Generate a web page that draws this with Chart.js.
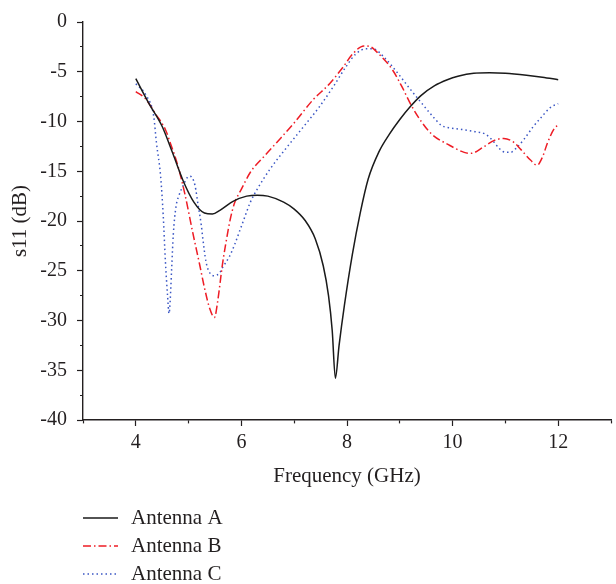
<!DOCTYPE html>
<html>
<head>
<meta charset="utf-8">
<script src="https://cdn.jsdelivr.net/npm/chart.js@4.4.0/dist/chart.umd.min.js"></script>
<style>
  html, body { margin: 0; padding: 0; background: #fff; }
  #wrap { width: 616px; height: 584px; }
</style>
</head>
<body>
<div id="wrap"><canvas id="s11chart"></canvas></div>
<script>
// Series names
const seriesNames = ['Antenna A', 'Antenna B', 'Antenna C'];

// Antenna A (solid black)
const freqA = [4.0, 4.25, 4.5, 4.7, 4.9, 5.1, 5.3, 5.45, 5.6, 5.85, 6.1, 6.3, 6.5, 6.8, 7.0, 7.2, 7.4, 7.55, 7.65, 7.72, 7.78, 7.85, 7.95, 8.1, 8.25, 8.4, 8.6, 8.8, 9.0, 9.2, 9.4, 9.66, 9.9, 10.1, 10.4, 10.7, 11.0, 11.4, 11.7, 12.0];
const s11A = [-5.7, -8.2, -10.5, -13.2, -16.0, -18.1, -19.2, -19.3, -18.9, -18.0, -17.5, -17.4, -17.5, -18.1, -18.8, -19.9, -21.8, -24.5, -27.5, -31.0, -35.8, -32.5, -28.5, -23.4, -19.2, -15.8, -13.1, -11.3, -9.8, -8.5, -7.4, -6.4, -5.8, -5.45, -5.15, -5.1, -5.15, -5.35, -5.55, -5.8];

// Antenna B (red dash-dot)
const freqB = [4.0, 4.18, 4.37, 4.56, 4.65, 4.8, 4.93, 5.08, 5.21, 5.3, 5.4, 5.49, 5.55, 5.64, 5.7, 5.79, 5.87, 6.0, 6.17, 6.43, 6.67, 6.99, 7.36, 7.67, 7.93, 8.11, 8.32, 8.45, 8.6, 8.86, 9.04, 9.23, 9.42, 9.61, 9.91, 10.22, 10.35, 10.6, 10.79, 10.97, 11.16, 11.29, 11.48, 11.6, 11.7, 11.8, 11.94, 12.0];
const s11B = [-7.0, -7.7, -9.2, -10.8, -12.1, -14.5, -17.3, -21.2, -24.4, -26.7, -28.8, -29.7, -28.1, -24.4, -22.4, -19.8, -18.2, -16.8, -15.1, -13.5, -12.1, -10.2, -7.8, -6.2, -4.5, -3.2, -2.4, -2.5, -3.2, -4.8, -6.5, -8.5, -10.1, -11.3, -12.3, -13.1, -13.2, -12.5, -11.9, -11.7, -12.1, -12.8, -13.9, -14.4, -13.6, -12.1, -10.6, -10.4];

// Antenna C (blue dotted)
const freqC = [4.0, 4.21, 4.34, 4.39, 4.47, 4.52, 4.56, 4.6, 4.63, 4.65, 4.68, 4.71, 4.76, 4.82, 4.9, 4.98, 5.03, 5.12, 5.18, 5.24, 5.27, 5.33, 5.4, 5.49, 5.59, 5.64, 5.77, 5.87, 5.96, 6.05, 6.17, 6.3, 6.54, 6.86, 7.18, 7.48, 7.74, 7.98, 8.17, 8.36, 8.49, 8.73, 8.97, 9.16, 9.42, 9.61, 9.79, 9.91, 10.17, 10.41, 10.63, 10.79, 10.88, 11.0, 11.1, 11.2, 11.35, 11.53, 11.66, 11.85, 12.0];
const s11C = [-6.2, -7.5, -9.5, -12.1, -15.5, -19.5, -24.0, -27.4, -29.3, -28.1, -24.7, -21.4, -18.6, -17.4, -16.4, -15.6, -15.5, -16.4, -18.4, -20.4, -21.8, -24.1, -25.2, -25.5, -25.2, -24.7, -23.6, -22.4, -21.1, -19.8, -18.1, -16.8, -14.8, -12.6, -10.5, -8.5, -6.5, -4.5, -3.2, -2.7, -2.7, -3.7, -5.2, -6.5, -8.2, -9.4, -10.4, -10.6, -10.8, -11.0, -11.3, -12.1, -12.7, -13.1, -13.1, -12.7, -11.8, -10.5, -9.7, -8.6, -8.2];

// Labelled ticks
const xTickLabels = [4, 6, 8, 10, 12];
const yTickLabels = [0, -5, -10, -15, -20, -25, -30, -35, -40];

const inkColor = '#231f20';
const serif = '"Liberation Serif", "DejaVu Serif", serif';

function toPoints(xs, ys) {
    return xs.map((x, i) => ({ x: x, y: ys[i] }));
}

// Legend stacked in rows under the x axis title
const rowLegend = {
    id: 'rowLegend',
    afterDraw(chart) {
        const ctx = chart.ctx;
        const left = chart.chartArea.left;
        ctx.save();
        ctx.font = '21px ' + serif;
        ctx.textBaseline = 'middle';
        chart.data.datasets.forEach((ds, i) => {
            const y = chart.chartArea.bottom + 98 + i * 28;
            ctx.strokeStyle = ds.borderColor;
            ctx.lineWidth = ds.borderWidth;
            ctx.setLineDash(ds.borderDash || []);
            ctx.beginPath();
            ctx.moveTo(left, y);
            ctx.lineTo(left + 35, y);
            ctx.stroke();
            ctx.setLineDash([]);
            ctx.fillStyle = inkColor;
            ctx.fillText(ds.label, left + 48, y);
        });
        ctx.restore();
    }
};

const s11Data = {
    datasets: [{
        label: seriesNames[0],
        data: toPoints(freqA, s11A),
        borderColor: '#1a1a1a',
        borderWidth: 1.5,
        borderDash: []
    }, {
        label: seriesNames[1],
        data: toPoints(freqB, s11B),
        borderColor: '#ee1c25',
        borderWidth: 1.5,
        borderDash: [8, 3, 1.5, 3]
    }, {
        label: seriesNames[2],
        data: toPoints(freqC, s11C),
        borderColor: '#3a56c4',
        borderWidth: 1.5,
        borderDash: [1.5, 3]
    }]
};

const s11Options = {
    responsive: true,
    maintainAspectRatio: false,
    animation: false,
    devicePixelRatio: 1,
    layout: { padding: { top: 18, right: 0, bottom: 94, left: 0 } },
    elements: {
        point: { radius: 0 },
        line: { cubicInterpolationMode: 'monotone', fill: false }
    },
    plugins: {
        legend: { display: false },
        tooltip: { enabled: false }
    },
    scales: {
        x: {
            type: 'linear',
            min: 3,
            max: 13,
            afterFit: scale => { scale.height = 70; },
            ticks: {
                stepSize: 1,
                autoSkip: false,
                maxRotation: 0,
                padding: 5,
                color: inkColor,
                font: { family: serif, size: 20 },
                callback: v => xTickLabels.includes(v) ? String(v) : ''
            },
            grid: {
                drawOnChartArea: false,
                tickLength: 6,
                tickColor: inkColor,
                tickWidth: 1.2,
                tickBorderDash: c => (c.tick && c.tick.value % 2 !== 0) ? [3, 20] : []
            },
            border: { color: inkColor, width: 1.4 },
            title: {
                display: true,
                text: 'Frequency (GHz)',
                color: inkColor,
                font: { family: serif, size: 21 },
                padding: { top: 0, bottom: 1 }
            }
        },
        y: {
            min: -40,
            max: 0,
            afterFit: scale => { scale.width = 83; },
            ticks: {
                stepSize: 2.5,
                autoSkip: false,
                padding: 10,
                color: inkColor,
                font: { family: serif, size: 20 },
                callback: v => yTickLabels.includes(v) ? String(v) : ''
            },
            grid: {
                drawOnChartArea: false,
                tickLength: 6,
                tickColor: inkColor,
                tickWidth: 1.2,
                tickBorderDash: c => (c.tick && c.tick.value % 5 !== 0) ? [0, 3, 3, 20] : []
            },
            border: { color: inkColor, width: 1.4 },
            title: {
                display: true,
                text: 's11 (dB)',
                color: inkColor,
                font: { family: serif, size: 21 },
                padding: { top: 8, bottom: 0 }
            }
        }
    }
};

new Chart(document.getElementById('s11chart'), {
    type: 'line',
    data: s11Data,
    options: s11Options,
    plugins: [rowLegend]
});
</script>
</body>
</html>
